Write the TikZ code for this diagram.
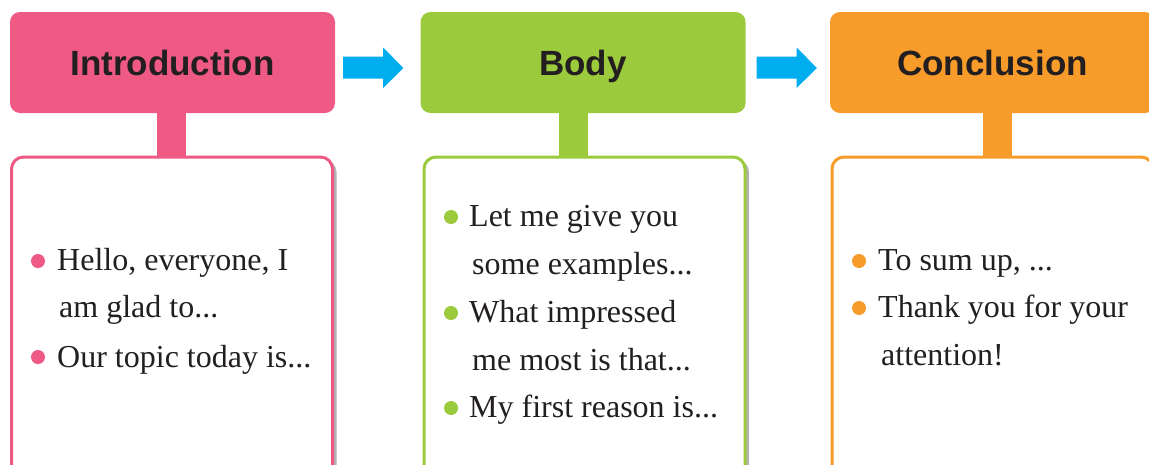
\documentclass[tikz,border=0pt]{standalone}
\usepackage{fontspec}
\setmainfont{Liberation Serif}
\newfontfamily\hdrfont{Liberation Sans}
\usetikzlibrary{shadows,calc}
\definecolor{pinkc}{RGB}{239,90,133}
\definecolor{greenc}{RGB}{155,203,60}
\definecolor{orangec}{RGB}{247,156,42}
\definecolor{bluec}{RGB}{0,174,239}
\definecolor{inkc}{RGB}{35,31,32}
\tikzset{
  hdr/.style={rounded corners=10pt, minimum width=325pt, minimum height=101pt, inner sep=0pt,
    text height=25pt, text depth=0pt,
    text=inkc, font=\hdrfont\bfseries\fontsize{35}{40}\selectfont},
  lowbox/.style={rounded corners=12pt, line width=3pt, fill=white, minimum width=321pt,
    minimum height=330pt, inner sep=0pt, anchor=north,
    drop shadow={shadow xshift=4pt, shadow yshift=-3pt, fill=black!30, opacity=1}},
  stem/.style={minimum width=29pt, minimum height=46pt, inner sep=0pt, anchor=north},
  line/.style={anchor=base west, inner sep=0pt, text=inkc, font=\fontsize{32}{36}\selectfont},
  bul/.style={circle, minimum size=14pt, inner sep=0pt},
  fatarrow/.style={fill=bluec}
}
\begin{document}
\begin{tikzpicture}[x=1pt,y=-1pt]
\useasboundingbox (0,0) rectangle (1149,464);
\clip (0,0) rectangle (1149,464);
% stems
\node[stem, fill=pinkc] (s1) at (171.5,110) {};
\node[stem, fill=greenc] (s2) at (573.5,110) {};
\node[stem, fill=orangec] (s3) at (997.5,110) {};
% headers
\node[hdr, fill=pinkc] (h1) at (172.5,62.5) {Introduction};
\node[hdr, fill=greenc] (h2) at (583,62.5) {Body};
\node[hdr, fill=orangec] (h3) at (992.5,62.5) {Conclusion};
% lower boxes
\node[lowbox, draw=pinkc] (b1) at (172,155.5) {};
\node[lowbox, draw=greenc] (b2) at (584.5,155.5) {};
\node[lowbox, draw=orangec] (b3) at (992.5,155.5) {};
% arrows between headers
\fill[fatarrow] ($(h1.east)+(8,-6)$) -- ($(h1.east)+(48,-6)$) -- ($(h1.east)+(48,-15)$)
  -- ($(h2.west)+(-17,5.5)$) -- ($(h1.east)+(48,25.5)$) -- ($(h1.east)+(48,16)$)
  -- ($(h1.east)+(8,16)$) -- cycle;
\fill[fatarrow] ($(h2.east)+(11,-6)$) -- ($(h2.east)+(51,-6)$) -- ($(h2.east)+(51,-15)$)
  -- ($(h3.west)+(-13,5.5)$) -- ($(h2.east)+(51,25.5)$) -- ($(h2.east)+(51,16)$)
  -- ($(h2.east)+(11,16)$) -- cycle;
% intro text
\node[bul, fill=pinkc] (p1) at (38,261) {};
\node[line] (t11) at (57,270) {Hello, everyone, I};
\node[line] (t12) at (59,317) {am glad to...};
\node[bul, fill=pinkc] (p2) at (38,357) {};
\node[line] (t13) at (57,367) {Our topic today is...};
% body text
\node[bul, fill=greenc] (g1) at (451,217) {};
\node[line] (t21) at (469,226) {Let me give you};
\node[line] (t22) at (472,274) {some examples...};
\node[bul, fill=greenc] (g2) at (451,313) {};
\node[line] (t23) at (469,322) {What impressed};
\node[line] (t24) at (472,370) {me most is that...};
\node[bul, fill=greenc] (g3) at (451,408) {};
\node[line] (t25) at (469,417) {My first reason is...};
% conclusion text
\node[bul, fill=orangec] (o1) at (859,261) {};
\node[line] (t31) at (878,270) {To sum up, ...};
\node[bul, fill=orangec] (o2) at (859,308) {};
\node[line] (t32) at (878,317) {Thank you for your};
\node[line] (t33) at (881,365) {attention!};
\end{tikzpicture}
\end{document}
